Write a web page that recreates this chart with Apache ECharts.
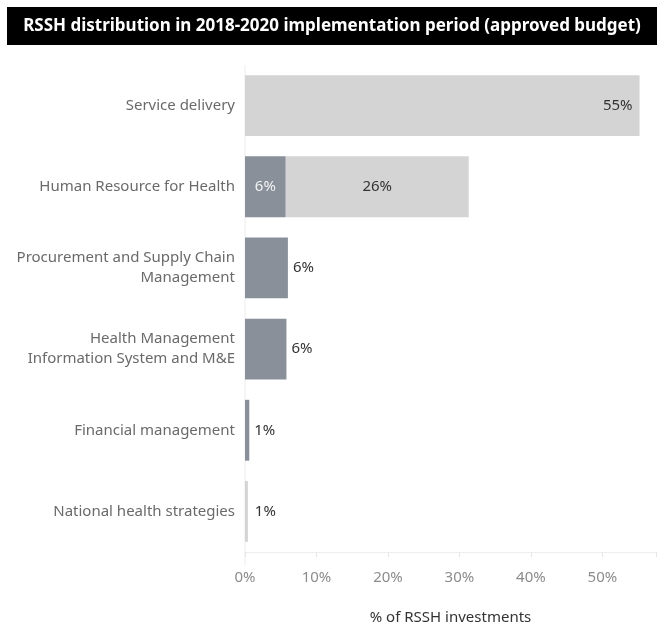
<!DOCTYPE html>
<html>
<head>
<meta charset="utf-8">
<script src="https://cdn.jsdelivr.net/npm/echarts@6/dist/echarts.min.js"></script>
<style>
html,body{margin:0;padding:0;background:#fff;}
#chart{width:664px;height:630px;}
</style>
</head>
<body>
<div id="chart"></div>
<script>
var titleText = 'RSSH distribution in 2018-2020 implementation period (approved budget)';
var categories = [
  'Service delivery',
  'Human Resource for Health',
  'Procurement and Supply Chain\nManagement',
  'Health Management\nInformation System and M&E',
  'Financial management',
  'National health strategies'
];
var darkValues  = [0, 5.7, 6.0, 5.8, 0.6, 0];
var lightValues = [55.2, 25.6, 0, 0, 0, 0.4];
var darkLabels  = ['', '6%', '6%', '6%', '1%', ''];
var lightLabels = ['55%', '26%', '', '', '', '1%'];
var xTicks = [0, 10, 20, 30, 40, 50];
var axisTitle = '% of RSSH investments';

var font = '"Noto Sans", sans-serif';

function darkItem(v, i) {
  var lab = darkLabels[i];
  var hasLight = lightValues[i] > 0;
  var label;
  if (!lab) label = {show: false};
  else if (hasLight) label = {show: true, position: 'inside', color: '#f2f2f2', formatter: lab};
  else label = {show: true, position: 'right', distance: 5, color: '#333', formatter: lab};
  return {value: v, label: label};
}
function lightItem(v, i) {
  var lab = lightLabels[i];
  var label;
  if (!lab) label = {show: false};
  else if (i === 0) label = {show: true, position: 'insideRight', distance: 7, color: '#333', formatter: lab};
  else if (darkValues[i] > 0) label = {show: true, position: 'inside', color: '#333', formatter: lab};
  else label = {show: true, position: 'right', distance: 7, color: '#333', formatter: lab};
  return {value: v, label: label};
}

var chart = echarts.init(document.getElementById('chart'), null, {renderer: 'canvas'});
chart.setOption({
  animation: false,
  backgroundColor: '#fff',
  graphic: [{
    type: 'rect',
    shape: {x: 7, y: 7, width: 650, height: 38},
    style: {fill: '#000'},
    z: 0
  }, {
    type: 'line',
    shape: {x1: 245, y1: 65, x2: 245, y2: 565},
    style: {stroke: '#ececec', lineWidth: 1},
    z: 0
  }],
  title: {
    text: titleText,
    left: 'center',
    top: 13,
    textStyle: {color: '#fff', fontSize: 17, fontWeight: 'bold', fontFamily: font}
  },
  grid: {left: 245, right: 8, top: 65, bottom: 77, containLabel: false},
  xAxis: {
    type: 'value',
    min: 0,
    max: 57.5,
    interval: 10,
    name: axisTitle,
    nameLocation: 'middle',
    nameGap: 58,
    nameTextStyle: {color: '#333', fontSize: 15, fontFamily: font},
    axisLine: {show: true, lineStyle: {color: '#eeeeee'}},
    axisTick: {show: true, length: 5, lineStyle: {color: '#e6e6e6'}},
    splitLine: {show: false},
    axisLabel: {
      color: '#8c8c8c', fontSize: 15, fontFamily: font, margin: 18,
      formatter: function (v) { return xTicks.indexOf(v) >= 0 ? v + '%' : ''; }
    }
  },
  yAxis: {
    type: 'category',
    inverse: true,
    data: categories,
    axisLine: {show: false},
    axisTick: {show: false},
    axisLabel: {color: '#6a6a6a', fontSize: 15, fontFamily: font, margin: 10, lineHeight: 20, align: 'right'}
  },
  series: [{
    type: 'bar',
    stack: 'total',
    barCategoryGap: '25%',
    itemStyle: {color: '#89909a'},
    label: {fontSize: 15, fontFamily: font},
    data: darkValues.map(darkItem)
  }, {
    type: 'bar',
    stack: 'total',
    barCategoryGap: '25%',
    itemStyle: {color: '#d4d4d4'},
    label: {fontSize: 15, fontFamily: font},
    data: lightValues.map(lightItem)
  }]
});
</script>
</body>
</html>
